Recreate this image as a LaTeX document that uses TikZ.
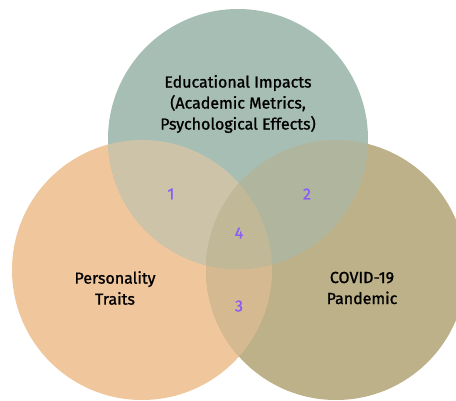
\documentclass[tikz,border=0pt]{standalone}
\usepackage{fontspec}
\setmainfont{Fira Sans}[FakeBold=1.2]
\definecolor{edufill}{RGB}{167,190,181}
\definecolor{perfill}{RGB}{240,199,156}
\definecolor{covfill}{RGB}{189,177,137}
\definecolor{mixpe}{RGB}{204,195,168}
\definecolor{mixec}{RGB}{176,182,157}
\definecolor{mixpc}{RGB}{213,185,144}
\definecolor{mixall}{RGB}{193,184,152}
\definecolor{numcol}{RGB}{139,92,246}
\tikzset{
  venntext/.style={align=center,font=\fontsize{16}{21}\selectfont,text=black},
  regionnum/.style={font=\fontsize{16}{18}\selectfont,text=numcol}
}
\begin{document}
\begin{tikzpicture}[x=1pt,y=-1pt]
\useasboundingbox (0,0) rectangle (456,400);
\clip (0,0) rectangle (456,400);
\def\rad{130pt}
\coordinate (edu) at (238,139);
\coordinate (per) at (142,270);
\coordinate (cov) at (336,270);
% the three sets
\fill[perfill] (per) circle (\rad);
\fill[covfill] (cov) circle (\rad);
\fill[edufill] (edu) circle (\rad);
% overlaps
\begin{scope}
\clip (per) circle (\rad);
\fill[mixpe] (edu) circle (\rad);
\fill[mixpc] (cov) circle (\rad);
\end{scope}
\begin{scope}
\clip (cov) circle (\rad);
\fill[mixec] (edu) circle (\rad);
\end{scope}
\begin{scope}
\clip (per) circle (\rad);
\clip (cov) circle (\rad);
\fill[mixall] (edu) circle (\rad);
\end{scope}
% labels
\node[venntext] (edutext) at (238,104) {Educational Impacts\\(Academic Metrics,\\Psychological Effects)};
\node[venntext] (pertext) at (115,288) {Personality\\Traits};
\node[venntext] (covtext) at (362,288) {COVID-19\\Pandemic};
\node[regionnum] (n1) at (171,194) {1};
\node[regionnum] (n2) at (307,194) {2};
\node[regionnum] (n4) at (239,233) {4};
\node[regionnum] (n3) at (239,306) {3};
\end{tikzpicture}
\end{document}
